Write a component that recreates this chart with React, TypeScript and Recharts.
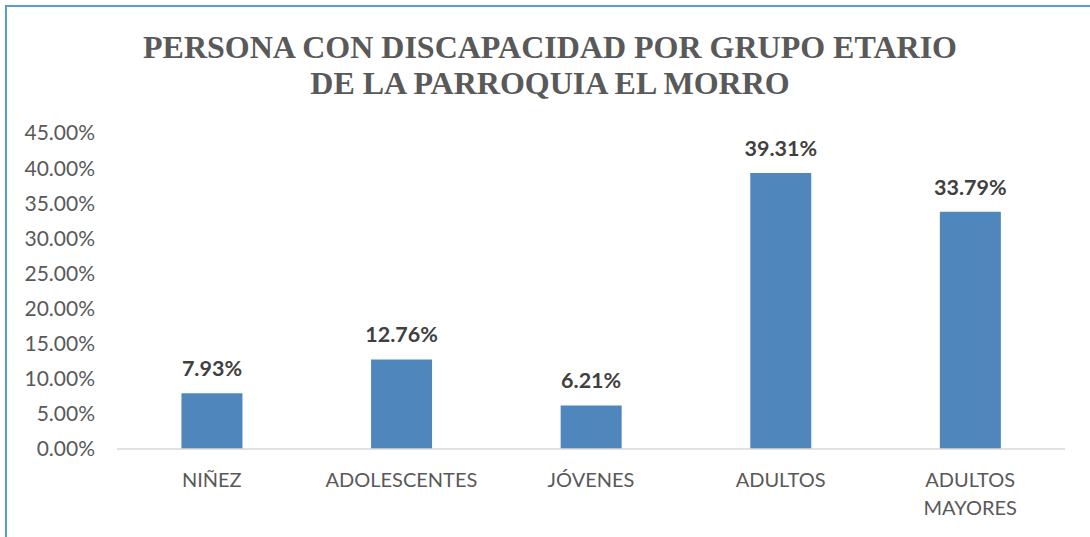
import { BarChart, Bar, XAxis, YAxis, LabelList } from 'recharts'

const categories = ['NIÑEZ', 'ADOLESCENTES', 'JÓVENES', 'ADULTOS', 'ADULTOS MAYORES']
const shares = [0.0793, 0.1276, 0.0621, 0.3931, 0.3379]
const yTicks = [0, 0.05, 0.1, 0.15, 0.2, 0.25, 0.3, 0.35, 0.4, 0.45]
const titleLines = ['PERSONA CON DISCAPACIDAD POR GRUPO ETARIO', 'DE LA PARROQUIA EL MORRO']

const data = categories.map((name, i) => ({ name, value: shares[i] }))

const pct = (v: number) => (v * 100).toFixed(2) + '%'

const FONT = 'Lato, "Open Sans", sans-serif'

function CatTick(props: any) {
  const { x, y, payload } = props
  const words = String(payload.value).split(' ')
  return (
    <text x={x} y={y} textAnchor="middle" fill="#595959" fontSize={20} fontFamily={FONT}>
      {words.map((w, i) => (
        <tspan key={i} x={x} dy={i === 0 ? 30 : 28}>{w}</tspan>
      ))}
    </text>
  )
}

export default function App() {
  return (
    <div style={{ position: 'relative', width: 1090, height: 537, background: '#fff', overflow: 'hidden' }}>
      <style>{'body{margin:0}'}</style>
      <div
        style={{
          position: 'absolute', left: 5, top: 5, width: 1100, height: 560,
          borderTop: '2px solid #5B9BD5', borderLeft: '2px solid #5B9BD5'
        }}
      />
      <div
        style={{
          position: 'absolute', left: 0, top: 29, width: 1100, textAlign: 'center',
          fontFamily: '"Liberation Serif", "Times New Roman", serif', fontWeight: 'bold',
          fontSize: 32, lineHeight: '36px', color: '#595959'
        }}
      >
        {titleLines.map((t, i) => <div key={i}>{t}</div>)}
      </div>
      <div style={{ position: 'absolute', left: 0, top: 0 }}>
        <BarChart
          width={1090}
          height={537}
          data={data}
          margin={{ top: 133, right: 25, bottom: 0, left: 0 }}
          barCategoryGap="34%"
        >
          <XAxis
            dataKey="name"
            height={88}
            tickLine={false}
            axisLine={{ stroke: '#D9D9D9', strokeWidth: 1.5 }}
            tick={<CatTick />}
            interval={0}
          />
          <YAxis
            width={117}
            domain={[0, 0.45]}
            ticks={yTicks}
            tickFormatter={pct}
            axisLine={false}
            tickLine={false}
            tickMargin={16}
            tick={{ fill: '#595959', fontSize: 21, fontFamily: FONT }}
          />
          <Bar dataKey="value" fill="#4F87BD" isAnimationActive={false}>
            <LabelList
              dataKey="value"
              position="top"
              offset={17}
              formatter={(v: any) => pct(Number(v))}
              style={{ fill: '#404040', fontSize: 21.5, fontWeight: 'bold', fontFamily: FONT }}
            />
          </Bar>
        </BarChart>
      </div>
    </div>
  )
}
